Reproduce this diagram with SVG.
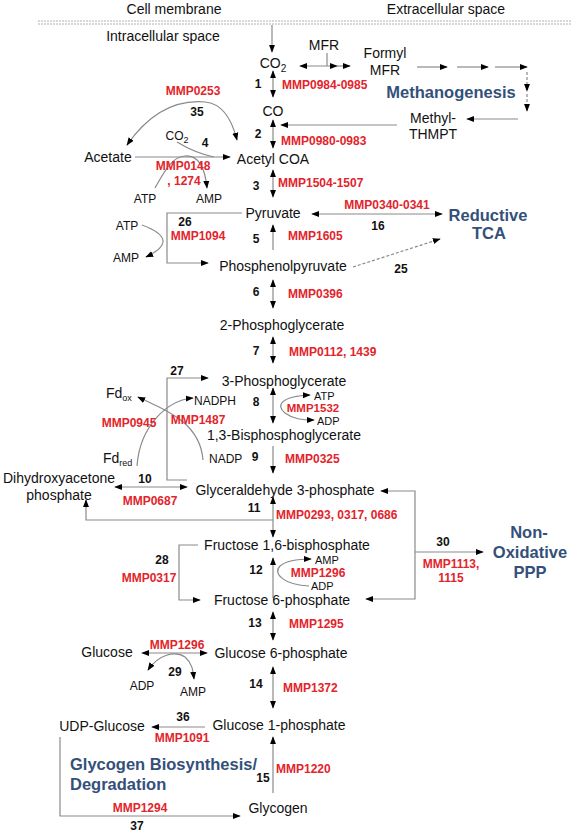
<svg xmlns="http://www.w3.org/2000/svg" width="572" height="833" viewBox="0 0 572 833">
<defs>
<marker id="ah" viewBox="0 0 10 10" refX="9" refY="5" markerWidth="8" markerHeight="8" markerUnits="userSpaceOnUse" orient="auto-start-reverse"><path d="M0,1.2 L10,5 L0,8.8 z" fill="#000"/></marker>
</defs>
<style>
text{font-family:"Liberation Sans",Arial,sans-serif;fill:#111}
.n{font-size:14px;text-anchor:middle}
.s{font-size:12px}
.t{font-size:11px}
.m{font-size:12px;font-weight:bold;fill:#e3242b}
.k{font-size:12px;font-weight:bold;fill:#111;text-anchor:middle}
.b{font-size:16.5px;font-weight:bold;fill:#34507a;text-anchor:middle}
.c{text-anchor:middle}
.ln{fill:none;stroke:#8a8a8a;stroke-width:1.2}
.e{marker-end:url(#ah)}
.bo{marker-start:url(#ah);marker-end:url(#ah)}
.d{stroke-dasharray:3,2}
</style>
<rect width="572" height="833" fill="#fff"/>
<g id="membrane">
<line x1="38" y1="21" x2="572" y2="21" stroke="#b0b0b0" stroke-width="1" stroke-dasharray="2,1"/>
<line x1="38" y1="24" x2="572" y2="24" stroke="#b0b0b0" stroke-width="1" stroke-dasharray="2,1"/>
<text class="n" x="174" y="14">Cell membrane</text>
<text class="n" x="446" y="14">Extracellular space</text>
<text class="n" x="163" y="41">Intracellular space</text>
</g>
<g id="connectors">
<path class="ln e" d="M272,25 V52"/>
<path class="ln bo" d="M273,71 V97"/>
<path class="ln bo" d="M273,120 V148"/>
<path class="ln e" d="M397,125 H281"/>
<path class="ln bo" d="M300,66 H337"/>
<path class="ln e" d="M337,66 H350"/>
<path class="ln" d="M327,53 V66"/>
<path class="ln e" d="M417,67 H447"/>
<path class="ln e" d="M457,67 H488"/>
<path class="ln e" d="M495,67 H527"/>
<path class="ln e d" d="M527,72 V91"/>
<path class="ln e d" d="M527,94 V111"/>
<path class="ln e" d="M518,119 H467"/>
<path class="ln bo" d="M127,145 Q160,98 205,102 Q228,104 237,140"/>
<path class="ln e" d="M135,157 H230"/>
<path class="ln" d="M177,142 Q195,153 214,157"/>
<path class="ln e" d="M155,188 C165,170 172,157 185,156 C198,155 205,168 207,188"/>
<path class="ln bo" d="M273,170 V197"/>
<path class="ln e" d="M242,213 H167 V263 H208"/>
<path class="ln e" d="M142,225 Q182,240 146,257"/>
<path class="ln e" d="M273,250 V225"/>
<path class="ln bo" d="M312,214 H442"/>
<path class="ln e d" d="M353,267 L440,239"/>
<path class="ln bo" d="M273,280 V308"/>
<path class="ln bo" d="M273,337 V363"/>
<path class="ln e" d="M187,480 H167 V378 H208"/>
<path class="ln bo" d="M273,388 V423"/>
<path class="ln bo" d="M310,395 C282,396 275,405 285,413 C293,419 302,420 314,420"/>
<path class="ln e" d="M137,466 C140,425 168,400 193,398"/>
<path class="ln e" d="M203,460 C200,420 160,408 138,397"/>
<path class="ln e" d="M273,446 V473"/>
<path class="ln bo" d="M115,487 H187"/>
<path class="ln bo" d="M273,497 V537"/>
<path class="ln e" d="M273,520 H86 V500"/>
<path class="ln bo" d="M381,491 H415 V599 H366"/>
<path class="ln e" d="M415,552 H483"/>
<path class="ln e" d="M198,545 H179 V600 H200"/>
<path class="ln e" d="M273,598 V558"/>
<path class="ln e" d="M309,586 C285,585 272,574 280,566 C287,560 298,559 311,559"/>
<path class="ln bo" d="M273,612 V640"/>
<path class="ln bo" d="M142,653 H207"/>
<path class="ln bo" d="M148,670 C158,655 175,650 185,657 C192,663 193,670 194,679"/>
<path class="ln bo" d="M273,667 V708"/>
<path class="ln e" d="M205,727 H152"/>
<path class="ln e" d="M273,793 V737"/>
<path class="ln e" d="M60,737 V816 H240"/>
</g>
<g id="n-co2"><text class="n" x="273" y="68">CO<tspan font-size="10" dy="4">2</tspan></text></g>
<g id="n-mfr"><text class="n" x="324" y="50">MFR</text></g>
<g id="n-formylmfr"><text class="n" x="385" y="58">Formyl</text><text class="n" x="385" y="75">MFR</text></g>
<g id="n-co"><text class="n" x="273" y="116">CO</text></g>
<g id="n-methylthmpt"><text class="n" x="433" y="123">Methyl-</text><text class="n" x="433" y="139">THMPT</text></g>
<g id="n-acetate"><text class="n" x="108" y="162">Acetate</text></g>
<g id="n-acetylcoa"><text class="n" x="273" y="164">Acetyl COA</text></g>
<g id="n-co2b"><text class="s c" x="177" y="140">CO<tspan font-size="9" dy="3">2</tspan></text></g>
<g id="n-atp4"><text class="s c" x="145" y="203">ATP</text></g>
<g id="n-amp4"><text class="s c" x="209" y="203">AMP</text></g>
<g id="n-pyruvate"><text class="n" x="273" y="218">Pyruvate</text></g>
<g id="n-atp26"><text class="s c" x="127" y="230">ATP</text></g>
<g id="n-amp26"><text class="s c" x="126" y="262">AMP</text></g>
<g id="n-pep"><text class="n" x="283" y="271">Phosphenolpyruvate</text></g>
<g id="n-2pg"><text class="n" x="282" y="330">2-Phosphoglycerate</text></g>
<g id="n-3pg"><text class="n" x="284" y="386">3-Phosphoglycerate</text></g>
<g id="n-fdox"><text class="n" x="106" y="398" style="text-anchor:start">Fd<tspan font-size="9" dy="3">ox</tspan></text></g>
<g id="n-nadph"><text class="s" x="194" y="405">NADPH</text></g>
<g id="n-atp8"><text class="t" x="314" y="399.5">ATP</text></g>
<g id="n-adp8"><text class="t" x="317" y="424.5">ADP</text></g>
<g id="n-13bpg"><text class="n" x="284" y="440">1,3-Bisphosphoglycerate</text></g>
<g id="n-fdred"><text class="n" x="103" y="463" style="text-anchor:start">Fd<tspan font-size="9" dy="3">red</tspan></text></g>
<g id="n-nadp"><text class="s" x="209" y="463">NADP</text></g>
<g id="n-dhap"><text class="n" x="59" y="483">Dihydroxyacetone</text><text class="n" x="59" y="500">phosphate</text></g>
<g id="n-g3p"><text class="n" x="285" y="495">Glyceraldehyde 3-phosphate</text></g>
<g id="n-f16bp"><text class="n" x="287" y="550">Fructose 1,6-bisphosphate</text></g>
<g id="n-amp12"><text class="t" x="315" y="563.5">AMP</text></g>
<g id="n-adp12"><text class="t" x="311" y="589.5">ADP</text></g>
<g id="n-f6p"><text class="n" x="282" y="605">Fructose 6-phosphate</text></g>
<g id="n-glucose"><text class="n" x="107" y="657">Glucose</text></g>
<g id="n-g6p"><text class="n" x="281" y="658">Glucose 6-phosphate</text></g>
<g id="n-adp29"><text class="s c" x="142" y="690">ADP</text></g>
<g id="n-amp29"><text class="s c" x="193" y="696">AMP</text></g>
<g id="n-udpglucose"><text class="n" x="102" y="731">UDP-Glucose</text></g>
<g id="n-g1p"><text class="n" x="279" y="730">Glucose 1-phosphate</text></g>
<g id="n-glycogen"><text class="n" x="278" y="813">Glycogen</text></g>
<g id="pathways">
<text class="b" x="451" y="98">Methanogenesis</text>
<text class="b" x="488" y="221">Reductive</text><text class="b" x="489" y="239">TCA</text>
<text class="b" x="529" y="538">Non-</text><text class="b" x="530" y="558">Oxidative</text><text class="b" x="530" y="578">PPP</text>
<text class="b" x="70" y="770" style="text-anchor:start">Glycogen Biosynthesis/</text>
<text class="b" x="70" y="790" style="text-anchor:start">Degradation</text>
</g>
<g id="reaction-labels">
<text class="k" x="258" y="88">1</text><text class="m" x="282" y="89">MMP0984-0985</text>
<text class="k" x="258" y="138">2</text><text class="m" x="281" y="145">MMP0980-0983</text>
<text class="m c" x="193" y="95">MMP0253</text><text class="k" x="197" y="116">35</text>
<text class="k" x="205" y="147">4</text>
<text class="m c" x="183" y="170">MMP0148</text><text class="m c" x="184" y="185">, 1274</text>
<text class="k" x="256" y="190">3</text><text class="m" x="278" y="187">MMP1504-1507</text>
<text class="m c" x="387" y="209">MMP0340-0341</text><text class="k" x="378" y="230">16</text>
<text class="k" x="185" y="226">26</text><text class="m c" x="198" y="240">MMP1094</text>
<text class="k" x="256" y="243">5</text><text class="m" x="288" y="240">MMP1605</text>
<text class="k" x="401" y="273">25</text>
<text class="k" x="256" y="296">6</text><text class="m" x="288" y="298">MMP0396</text>
<text class="k" x="256" y="355">7</text><text class="m" x="289" y="356">MMP0112, 1439</text>
<text class="k" x="177" y="375">27</text>
<text class="k" x="256" y="406">8</text><text class="m c" x="313" y="412" style="font-size:11.5px">MMP1532</text>
<text class="m c" x="129" y="427">MMP0945</text><text class="m c" x="198" y="424">MMP1487</text>
<text class="k" x="255" y="461">9</text><text class="m" x="285" y="463">MMP0325</text>
<text class="k" x="145" y="483">10</text><text class="m c" x="150" y="505">MMP0687</text>
<text class="k" x="254" y="512">11</text><text class="m" x="276" y="519">MMP0293, 0317, 0686</text>
<text class="k" x="443" y="546">30</text><text class="m c" x="451" y="568">MMP1113,</text><text class="m c" x="451" y="582">1115</text>
<text class="k" x="162" y="564">28</text><text class="m c" x="149" y="582">MMP0317</text>
<text class="k" x="256" y="574">12</text><text class="m c" x="318" y="577">MMP1296</text>
<text class="k" x="255" y="627">13</text><text class="m" x="289" y="628">MMP1295</text>
<text class="m c" x="177" y="649">MMP1296</text><text class="k" x="175" y="676">29</text>
<text class="k" x="256" y="688">14</text><text class="m" x="283" y="692">MMP1372</text>
<text class="k" x="183" y="721">36</text><text class="m c" x="182" y="742">MMP1091</text>
<text class="k" x="263" y="782">15</text><text class="m" x="276" y="773">MMP1220</text>
<text class="m c" x="140" y="812">MMP1294</text><text class="k" x="137" y="830">37</text>
</g>
</svg>
